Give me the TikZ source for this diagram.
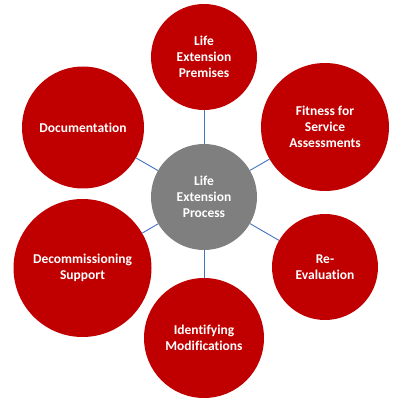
\documentclass[tikz,border=0pt]{standalone}
\usepackage{fontspec}
\setmainfont{Carlito}[Ligatures={NoCommon}]
\usepackage{xcolor}
\definecolor{hubgray}{HTML}{7F7F7F}
\definecolor{petalred}{HTML}{C00000}
\definecolor{linkblue}{HTML}{4472C4}

\begin{document}
\begin{tikzpicture}[x=1pt, y=1pt,
  petal/.style={circle, fill=petalred, inner sep=0pt, text=white, align=center,
    font=\fontsize{13.5}{15.8}\selectfont\bfseries},
  hub/.style={petal, fill=hubgray},
  link/.style={draw=linkblue, line width=0.9pt}]
  \useasboundingbox (0,0) rectangle (400,400);

  % hub and petals
  \node[hub, minimum size=106pt]   (process)   at (204,203)   {Life\\Extension\\Process};
  \node[petal, minimum size=106pt] (premises)  at (204,343)   {Life\\Extension\\Premises};
  \node[petal, minimum size=128pt] (fitness)   at (325,273)   {Fitness for\\Service\\Assessments};
  \node[petal, minimum size=106pt] (reeval)    at (325,133)   {Re-\\Evaluation};
  \node[petal, minimum size=120pt] (modify)    at (204,62)    {Identifying\\Modifications};
  \node[petal, minimum size=138pt] (decom)     at (82.5,132)  {Decommissioning\\Support};
  \node[petal, minimum size=122pt] (docs)      at (83,272.5)  {Documentation};

  % spokes
  \foreach \p in {premises,fitness,reeval,modify,decom,docs}
    \draw[link] (process) -- (\p);
\end{tikzpicture}
\end{document}
